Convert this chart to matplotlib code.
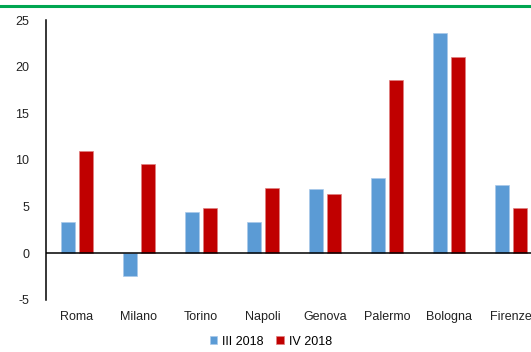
import numpy as np
import matplotlib
matplotlib.use("Agg")
import matplotlib.pyplot as plt
from matplotlib.lines import Line2D

plt.rcParams["font.family"] = ["Liberation Sans", "DejaVu Sans"]
plt.rcParams["axes.unicode_minus"] = False

# Data
cities = ["Roma", "Milano", "Torino", "Napoli", "Genova", "Palermo", "Bologna", "Firenze"]
q3_2018 = [3.3, -2.4, 4.4, 3.3, 6.9, 8.1, 23.6, 7.3]
q4_2018 = [11.0, 9.6, 4.8, 7.0, 6.4, 18.6, 21.0, 4.8]
series_names = ["III 2018", "IV 2018"]
y_ticks = [-5, 0, 5, 10, 15, 20, 25]

blue = "#5B9BD5"
red = "#C00000"

fig = plt.figure(figsize=(5.31, 3.52), dpi=100)

# green rule at the top of the page
fig.add_artist(Line2D([0, 1], [0.983, 0.983], color="#00A651", lw=2.2,
                      transform=fig.transFigure))

ax = fig.add_axes([0.0866, 0.148, 0.934, 0.795])

x = np.arange(len(cities))
w = 0.225
gap = 0.06
ax.bar(x - (w + gap) / 2, q3_2018, width=w, color=blue, label=series_names[0],
       edgecolor="#a9c9ea", linewidth=0.5)
ax.bar(x + (w + gap) / 2, q4_2018, width=w, color=red, label=series_names[1],
       edgecolor="#e08080", linewidth=0.5)

ax.axhline(0, color="black", lw=1.1)

ax.set_xlim(-0.5, len(cities) - 0.5)
ax.set_ylim(-5, 25)
ax.set_yticks(y_ticks)
ax.set_xticks(x)
ax.set_xticklabels(cities)
ax.tick_params(axis="both", length=0, labelsize=9, colors="#222222")
ax.tick_params(axis="x", pad=8)
ax.tick_params(axis="y", pad=12)

for s in ["top", "right", "bottom"]:
    ax.spines[s].set_visible(False)
ax.spines["left"].set_color("black")
ax.spines["left"].set_linewidth(1.1)

fig.legend(loc="lower center", bbox_to_anchor=(0.51, -0.02), ncol=2,
           frameon=False, fontsize=9, handlelength=0.6, handleheight=0.6,
           handletextpad=0.4, columnspacing=1.0)

fig.savefig("out.png", dpi=100)
